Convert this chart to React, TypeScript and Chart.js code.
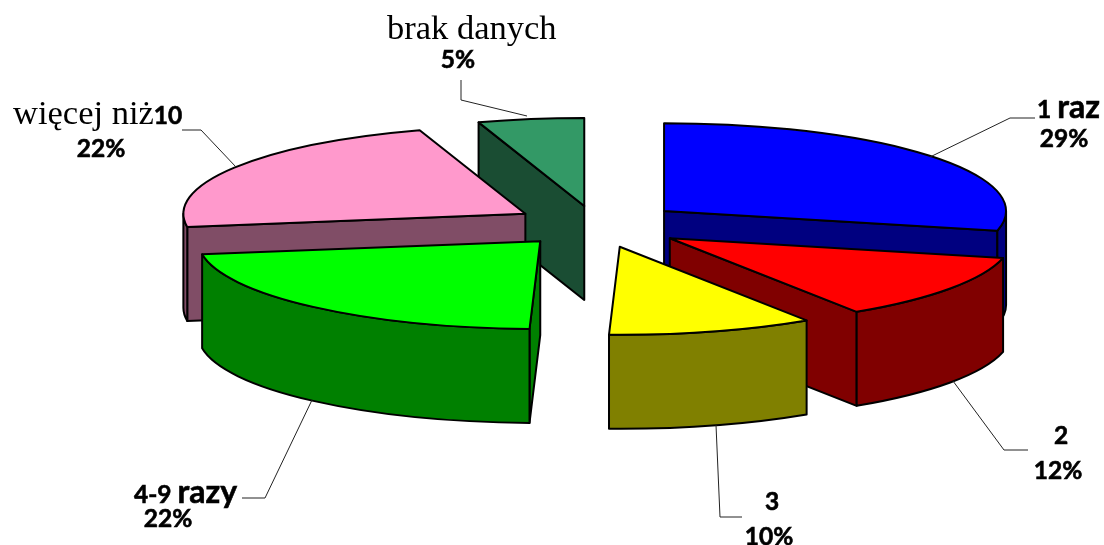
import React, { useEffect, useRef } from "react";
import { Chart, registerables } from "chart.js";

Chart.register(...registerables);

const categories = ["1 raz", "2", "3", "4-9 razy", "więcej niż 10", "brak danych"];
const values = [28.6, 12.2, 9.7, 22.1, 22.4, 5.0];
const topColors = ["#0000ff", "#ff0000", "#ffff00", "#00ff00", "#ff99cc", "#339966"];
const wallColors = ["#000080", "#800000", "#808000", "#008000", "#804d66", "#1a4d33"];
const explode = [87, 90, 88, 84, 83, 75];
const paintOrder = [5, 0, 4, 1, 3, 2];

const SQUASH = 0.257;
const DEPTH = 94;
const RADIUS = 342;

type Run = { text: string; font: string };
type Label = { index: number; nameRuns: Run[]; nameX: number; nameY: number; pctX: number; pctY: number; leader: number[][] };

const SANS = "bold 24.5px Lato, sans-serif";
const SANS_BIG = "bold 32px Lato, sans-serif";
const SERIF = "34.5px 'Liberation Serif', serif";

const labelLayout: Label[] = [
  { index: 0, nameRuns: [{ text: "1 ", font: SANS }, { text: "raz", font: SANS_BIG }], nameX: 1037, nameY: 118, pctX: 1064, pctY: 147, leader: [[1035, 118], [1010, 118], [930, 157]] },
  { index: 1, nameRuns: [{ text: "2", font: SANS }], nameX: 1054, nameY: 444, pctX: 1058, pctY: 479, leader: [[953, 381], [1004, 450], [1028, 450]] },
  { index: 2, nameRuns: [{ text: "3", font: SANS }], nameX: 765, nameY: 510, pctX: 769, pctY: 545, leader: [[716, 425], [720, 517], [742, 517]] },
  { index: 3, nameRuns: [{ text: "4-9 ", font: SANS }, { text: "razy", font: SANS_BIG }], nameX: 134, nameY: 503, pctX: 168, pctY: 527, leader: [[312, 400], [265, 498], [242, 498]] },
  { index: 4, nameRuns: [{ text: "więcej niż", font: SERIF }, { text: "10", font: SANS }], nameX: 13, nameY: 124, pctX: 101, pctY: 157, leader: [[182, 130], [201, 130], [236, 167]] },
  { index: 5, nameRuns: [{ text: "brak danych", font: SERIF }], nameX: 387, nameY: 39, pctX: 458, pctY: 68, leader: [[461, 80], [461, 100], [527, 116]] },
];

const pie3d = {
  id: "pie3d",
  beforeDatasetDraw(chart: any) {
    const ctx: CanvasRenderingContext2D = chart.ctx;
    const arcs = chart.getDatasetMeta(0).data;
    paintOrder.forEach((i) => {
      const arc = arcs[i];
      const { x, y, startAngle, endAngle, outerRadius: r } = arc;
      const mid = (startAngle + endAngle) / 2;
      const ax = x + Math.cos(mid) * explode[i];
      const ay = y + Math.sin(mid) * explode[i] * SQUASH;
      const pt = (a: number, d = 0) => [ax + r * Math.cos(a), ay + r * SQUASH * Math.sin(a) + d];
      ctx.save();
      ctx.lineWidth = 2;
      ctx.lineJoin = "round";
      ctx.strokeStyle = "#000";
      ctx.fillStyle = wallColors[i];

      const face = (a: number) => {
        const p = pt(a);
        const q = pt(a, DEPTH);
        ctx.beginPath();
        ctx.moveTo(ax, ay);
        ctx.lineTo(p[0], p[1]);
        ctx.lineTo(q[0], q[1]);
        ctx.lineTo(ax, ay + DEPTH);
        ctx.closePath();
        ctx.fill();
        ctx.stroke();
      };
      // only the radial cut faces that turn towards the viewer
      if (Math.cos(startAngle) < -1e-6) face(startAngle);
      if (Math.cos(endAngle) > 1e-6) face(endAngle);

      // curved outer wall: only the part of the rim that faces the viewer
      const from = Math.max(startAngle, 0);
      const to = Math.min(endAngle, Math.PI);
      if (to > from) {
        ctx.beginPath();
        ctx.ellipse(ax, ay, r, r * SQUASH, 0, from, to, false);
        ctx.ellipse(ax, ay + DEPTH, r, r * SQUASH, 0, to, from, true);
        ctx.closePath();
        ctx.fill();
        ctx.stroke();
      }

      // top surface: the library's own arc, squashed into perspective
      ctx.save();
      ctx.translate(ax, ay);
      ctx.scale(1, SQUASH);
      ctx.translate(-x, -y);
      arc.draw(ctx);
      ctx.restore();

      ctx.beginPath();
      ctx.moveTo(ax, ay);
      ctx.ellipse(ax, ay, r, r * SQUASH, 0, startAngle, endAngle, false);
      ctx.closePath();
      ctx.stroke();
      ctx.restore();
    });
    return false;
  },
  afterDraw(chart: any) {
    const ctx: CanvasRenderingContext2D = chart.ctx;
    ctx.save();
    ctx.textBaseline = "alphabetic";
    ctx.fillStyle = "#000";
    const put = (text: string, px: number, py: number, font: string) => {
      ctx.font = font;
      ctx.fillText(text, px, py);
      if (font !== SERIF) {
        ctx.strokeStyle = "#000";
        ctx.lineWidth = 0.6;
        ctx.strokeText(text, px, py);
      }
    };
    labelLayout.forEach((l) => {
      ctx.strokeStyle = "#222";
      ctx.lineWidth = 1;
      ctx.beginPath();
      l.leader.forEach((p, k) => (k === 0 ? ctx.moveTo(p[0], p[1]) : ctx.lineTo(p[0], p[1])));
      ctx.stroke();
      let cursor = l.nameX;
      ctx.textAlign = "left";
      l.nameRuns.forEach((run) => {
        put(run.text, cursor, l.nameY, run.font);
        cursor += ctx.measureText(run.text).width;
      });
      ctx.textAlign = "center";
      put(`${Math.round(values[l.index])}%`, l.pctX, l.pctY, SANS);
    });
    ctx.restore();
  },
};

export default function App() {
  const ref = useRef<HTMLCanvasElement>(null);
  useEffect(() => {
    document.body.style.margin = "0";
    const chart = new Chart(ref.current as HTMLCanvasElement, {
      type: "pie",
      data: {
        labels: categories,
        datasets: [
          {
            data: values,
            backgroundColor: topColors,
            borderWidth: 0,
            clip: false,
          } as any,
        ],
      },
      options: {
        responsive: false,
        animation: false,
        radius: RADIUS,
        events: [],
        layout: { padding: { left: 88, right: 0, top: 0, bottom: 95 } },
        plugins: { legend: { display: false }, tooltip: { enabled: false }, title: { display: false } },
      } as any,
      plugins: [pie3d as any],
    });
    return () => chart.destroy();
  }, []);
  return <canvas ref={ref} width={1104} height={545} style={{ display: "block", width: 1104, height: 545 }} />;
}
